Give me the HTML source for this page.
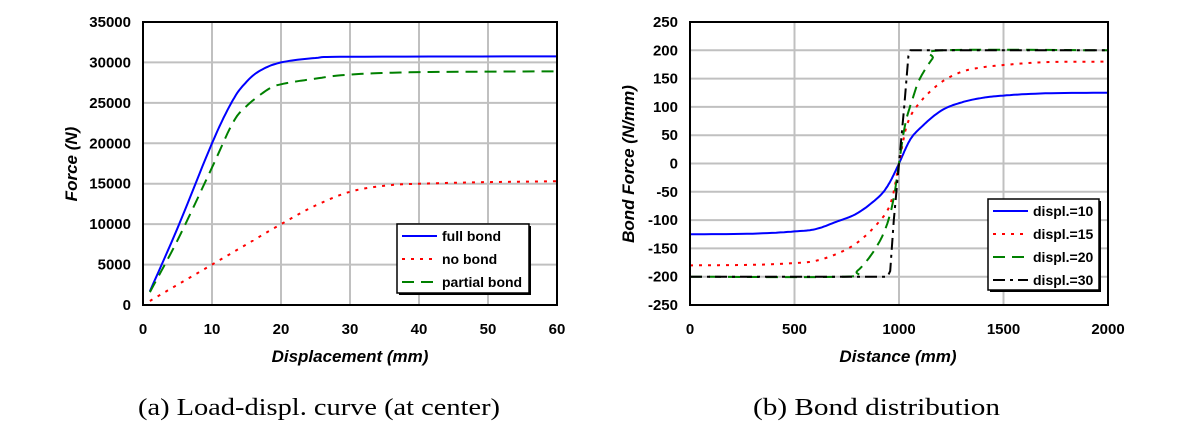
<!DOCTYPE html>
<html><head><meta charset="utf-8"><style>
body{margin:0;background:#fff;width:1198px;height:428px;overflow:hidden}
svg text{font-family:"Liberation Sans",Arial,sans-serif}
</style></head><body>
<svg id="s" width="1198" height="428" xmlns="http://www.w3.org/2000/svg"></svg>
<script>
const s=document.getElementById('s');let h='';
function chart(o){
 const {x0,x1,y0,y1,xmin,xmax,ymin,ymax,xt,yt}=o;
 const X=v=>x0+(v-xmin)/(xmax-xmin)*(x1-x0), Y=v=>y1-(v-ymin)/(ymax-ymin)*(y1-y0);
 for(const t of xt){h+=`<line x1="${X(t)}" y1="${y0}" x2="${X(t)}" y2="${y1}" stroke="#c0c0c0" stroke-width="2"/>`;
  h+=`<text x="${X(t)}" y="${y1+29}" text-anchor="middle" font-size="15" font-weight="bold">${t}</text>`;}
 for(const t of yt){h+=`<line x1="${x0}" y1="${Y(t)}" x2="${x1}" y2="${Y(t)}" stroke="#c0c0c0" stroke-width="2"/>`;
  h+=`<text x="${x0-12}" y="${Y(t)+5}" text-anchor="end" font-size="15" font-weight="bold">${t}</text>`;}
 for(const sr of o.series){
  let p=[];const pts=sr.pts;
  if(sr.lin){p=pts.map(q=>[X(q[0]),Y(q[1])]);}else{
  for(let i=0;i<pts.length-1;i++){const a=pts[Math.max(i-1,0)],b=pts[i],c=pts[i+1],d=pts[Math.min(i+2,pts.length-1)];
   for(let k=0;k<10;k++){const t=k/10,t2=t*t,t3=t2*t;
    const f=(A,B,C,D)=>0.5*((2*B)+(-A+C)*t+(2*A-5*B+4*C-D)*t2+(-A+3*B-3*C+D)*t3);
    p.push([X(f(a[0],b[0],c[0],d[0])),Y(f(a[1],b[1],c[1],d[1]))]);}}
  const l=pts[pts.length-1];p.push([X(l[0]),Y(l[1])]);}
  h+=`<polyline fill="none" stroke="${sr.c}" stroke-width="2" ${sr.d?`stroke-dasharray="${sr.d}"`:''} points="${p.map(q=>q[0].toFixed(1)+','+q[1].toFixed(1)).join(' ')}"/>`;
 }
 h+=`<rect x="${x0}" y="${y0}" width="${x1-x0}" height="${y1-y0}" fill="none" stroke="#000" stroke-width="2"/>`;
 const L=o.leg;
 h+=`<rect x="${L.x+2}" y="${L.y+2}" width="${L.w}" height="${L.h}" fill="#000"/><rect x="${L.x}" y="${L.y}" width="${L.w}" height="${L.h}" fill="#fff" stroke="#000" stroke-width="1.5"/>`;
 o.series.forEach((sr,i)=>{const yy=L.y+12+i*L.dy;
  h+=`<line x1="${L.x+5}" y1="${yy}" x2="${L.x+L.lw}" y2="${yy}" stroke="${sr.c}" stroke-width="2" ${sr.d?`stroke-dasharray="${sr.d}"`:''}/>`;
  h+=`<text x="${L.x+L.lw+5}" y="${yy+5}" font-size="14" font-weight="bold">${sr.n}</text>`;});
}
chart({x0:143,x1:557,y0:22,y1:305,xmin:0,xmax:60,ymin:0,ymax:35000,xt:[0,10,20,30,40,50,60],yt:[0,5000,10000,15000,20000,25000,30000,35000],
 leg:{x:397,y:224,w:132,h:69,dy:23,lw:40},
 series:[
 {n:'full bond',c:'#0000ff',pts:[[1,1700],[5,9500],[10,20000],[13,25300],[15,27600],[17,29000],[20,30000],[25,30550],[30,30700],[60,30750]]},
 {n:'no bond',c:'#ff0000',d:'3,6',pts:[[1,500],[5,2500],[10,5000],[15,7500],[20,10000],[25,12300],[30,14000],[35,14750],[40,15000],[50,15200],[60,15300]]},
 {n:'partial bond',c:'#008000',d:'12,7',pts:[[1,1600],[5,8000],[10,17000],[13,22500],[15,24600],[18,26600],[20,27300],[25,28000],[30,28500],[40,28800],[60,28900]]}
 ]});
chart({x0:690,x1:1108,y0:22,y1:305,xmin:0,xmax:2000,ymin:-250,ymax:250,xt:[0,500,1000,1500,2000],yt:[-250,-200,-150,-100,-50,0,50,100,150,200,250],
 leg:{x:988,y:199,w:111,h:91,dy:23,lw:40},
 series:[
 {n:'displ.=10',c:'#0000ff',pts:[[0,-125],[300,-124],[500,-120],[600,-116],[700,-103],[800,-88],[900,-60],[950,-37],[1000,0],[1050,40],[1100,62],[1200,93],[1300,108],[1400,116],[1500,120],[1700,124],[2000,125]]},
 {n:'displ.=15',c:'#ff0000',d:'3,6',pts:[[0,-180],[300,-179],[500,-176],[600,-172],[700,-160],[800,-140],[900,-105],[960,-70],[1000,0],[1040,70],[1100,108],[1200,143],[1300,162],[1400,170],[1500,174],[1700,179],[2000,180]]},
 {n:'displ.=20',c:'#008000',d:'12,7',pts:[[0,-200],[740,-200],[800,-190],[870,-160],[930,-120],[970,-70],[1000,0],[1030,70],[1070,120],[1100,150],[1160,185],[1210,200],[2000,200]]},
 {n:'displ.=30',c:'#000000',d:'12,5,3,5',lin:1,pts:[[0,-200],[945,-200],[958,-190],[975,-100],[1000,0],[1025,100],[1045,190],[1055,200],[2000,200]]}
 ]});
h+=`<text x="350" y="362" text-anchor="middle" font-size="17" font-weight="bold" font-style="italic">Displacement (mm)</text>`;
h+=`<text transform="translate(77,164) rotate(-90)" text-anchor="middle" font-size="17" font-weight="bold" font-style="italic">Force (N)</text>`;
h+=`<text x="898" y="362" text-anchor="middle" font-size="17" font-weight="bold" font-style="italic">Distance (mm)</text>`;
h+=`<text transform="translate(634,164) rotate(-90)" text-anchor="middle" font-size="17" font-weight="bold" font-style="italic">Bond Force (N/mm)</text>`;
h+=`<text x="138" y="415" font-size="24" textLength="362" lengthAdjust="spacingAndGlyphs" style="font-family:'Liberation Serif',serif">(a) Load-displ. curve (at center)</text>`;
h+=`<text x="753" y="415" font-size="24" textLength="247" lengthAdjust="spacingAndGlyphs" style="font-family:'Liberation Serif',serif">(b) Bond distribution</text>`;
s.innerHTML=h;
</script>
</body></html>
